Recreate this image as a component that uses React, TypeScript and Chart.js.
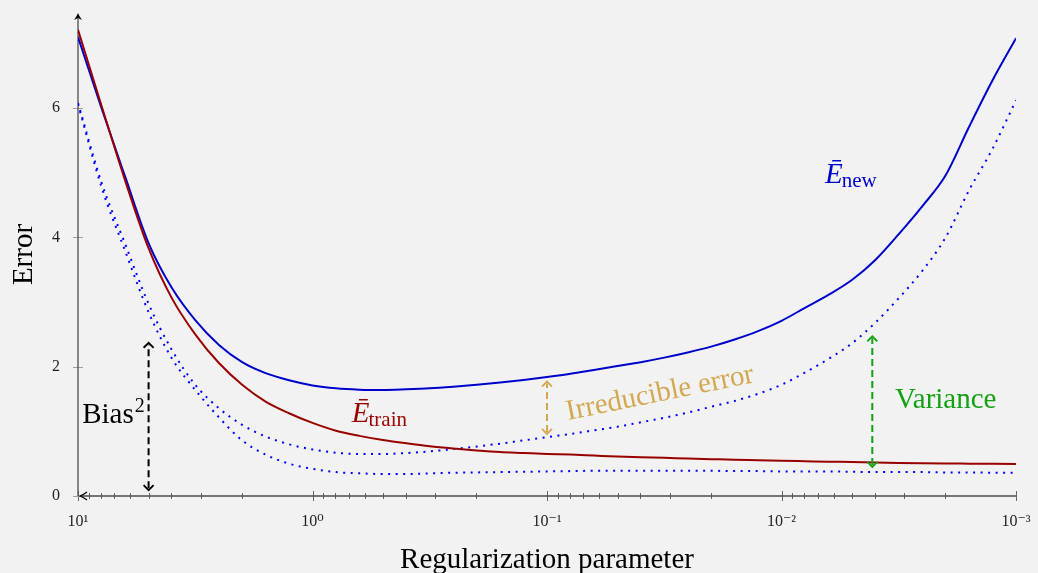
import React, { useEffect, useRef } from "react";
import { Chart, registerables } from "chart.js";

Chart.register(...registerables);

// log10 of the regularization parameter (x axis is reversed: 10^1 on the left)
const logLambda = [
  1.0, 0.9, 0.8, 0.7, 0.6, 0.5, 0.4, 0.3, 0.2, 0.1, 0.0,
  -0.1, -0.2, -0.3, -0.4, -0.5, -0.6, -0.7, -0.8, -0.9, -1.0,
  -1.1, -1.2, -1.3, -1.4, -1.5, -1.6, -1.7, -1.8, -1.9, -2.0,
  -2.1, -2.2, -2.3, -2.4, -2.5, -2.6, -2.7, -2.8, -2.9, -3.0,
];

const eTrain = [
  7.21, 6.04, 4.89, 3.84, 3.06, 2.50, 2.06, 1.72, 1.46, 1.28, 1.13,
  1.01, 0.93, 0.865, 0.815, 0.77, 0.735, 0.705, 0.68, 0.665, 0.65,
  0.64, 0.625, 0.61, 0.60, 0.59, 0.58, 0.57, 0.56, 0.553, 0.545,
  0.538, 0.531, 0.525, 0.518, 0.512, 0.507, 0.503, 0.50, 0.497, 0.495,
];

const eNew = [
  7.10, 6.00, 4.95, 3.92, 3.22, 2.72, 2.34, 2.07, 1.90, 1.79, 1.71,
  1.665, 1.645, 1.64, 1.65, 1.665, 1.69, 1.72, 1.755, 1.795, 1.84,
  1.89, 1.95, 2.01, 2.07, 2.14, 2.22, 2.31, 2.42, 2.55, 2.71,
  2.91, 3.11, 3.34, 3.65, 4.05, 4.48, 4.96, 5.71, 6.43, 7.08,
];

const biasPlusVariance = [
  6.08, 4.85, 3.91, 2.98, 2.26, 1.72, 1.36, 1.10, 0.92, 0.80, 0.72,
  0.67, 0.65, 0.65, 0.665, 0.69, 0.725, 0.765, 0.81, 0.86, 0.91,
  0.96, 1.015, 1.07, 1.14, 1.21, 1.29, 1.38, 1.47, 1.58, 1.72,
  1.91, 2.12, 2.36, 2.68, 3.06, 3.48, 4.00, 4.73, 5.37, 6.12,
];

const biasSquared = [
  6.06, 4.78, 3.80, 2.85, 2.13, 1.64, 1.22, 0.86, 0.64, 0.50, 0.42,
  0.37, 0.35, 0.34, 0.34, 0.35, 0.36, 0.365, 0.37, 0.375, 0.38,
  0.385, 0.39, 0.39, 0.39, 0.39, 0.39, 0.39, 0.385, 0.385, 0.38,
  0.38, 0.38, 0.375, 0.37, 0.37, 0.37, 0.365, 0.365, 0.36, 0.36,
];

const yTickValues = [0, 2, 4, 6];
const xDecades = [1, 0, -1, -2, -3];
const xDecadeLabels = ["10¹", "10⁰", "10⁻¹", "10⁻²", "10⁻³"];
const minorMultipliers = [2, 3, 4, 5, 6, 7, 8, 9];

// dashed double arrows: x = lambda, from y0 to y1 (error units)
const arrowX = [5.0, 0.1, 0.0041];
const arrowFrom = [0.09, 0.96, 0.45];
const arrowTo = [2.37, 1.77, 2.47];
const arrowColors = ["#000000", "#d4a852", "#13a013"];

const FONT = "'Liberation Serif', 'DejaVu Serif', serif";

function isDecade(v: number) {
  const l = Math.log10(v);
  return Math.abs(l - Math.round(l)) < 1e-6;
}

export default function App() {
  const ref = useRef<HTMLCanvasElement | null>(null);

  useEffect(() => {
    const canvas = ref.current;
    if (!canvas) return;
    const lambdas = logLambda.map((l) => Math.pow(10, l));
    const mk = (vals: number[]) => lambdas.map((x, i) => ({ x, y: vals[i] }));

    const tickValues: number[] = [];
    xDecades.forEach((d) => {
      tickValues.push(Math.pow(10, d));
      if (d < 1) minorMultipliers.forEach((m) => tickValues.push(m * Math.pow(10, d)));
    });

    const axesPlugin = {
      id: "axesPlugin",
      beforeDatasetsDraw(chart: any) {
        const { ctx, chartArea, scales } = chart;
        const xs = scales.x;
        const ys = scales.y;
        const x0 = chartArea.left;
        const y0 = ys.getPixelForValue(0);
        ctx.save();
        ctx.strokeStyle = "#666";
        ctx.lineWidth = 1;
        xs.ticks.forEach((t: any) => {
          const px = Math.round(xs.getPixelForValue(t.value)) + 0.5;
          const h = isDecade(t.value) ? 5 : 3;
          ctx.beginPath();
          ctx.moveTo(px, y0 - h);
          ctx.lineTo(px, y0 + h);
          ctx.stroke();
        });
        ctx.strokeStyle = "#a0a0a0";
        yTickValues.forEach((v) => {
          const py = Math.round(ys.getPixelForValue(v)) + 0.5;
          ctx.beginPath();
          ctx.moveTo(x0 - 5, py);
          ctx.lineTo(x0 + 5, py);
          ctx.stroke();
        });
        ctx.strokeStyle = "#4d4d4d";
        ctx.fillStyle = "#000";
        ctx.lineWidth = 1.3;
        ctx.beginPath();
        ctx.moveTo(chartArea.right, y0);
        ctx.lineTo(x0 + 2, y0);
        ctx.stroke();
        ctx.beginPath();
        ctx.moveTo(x0, y0);
        ctx.lineTo(x0, chartArea.top + 2);
        ctx.stroke();
        ctx.strokeStyle = "#000";
        ctx.lineWidth = 1.2;
        ctx.beginPath();
        ctx.moveTo(x0 - 4, chartArea.top + 7);
        ctx.quadraticCurveTo(x0 - 1, chartArea.top + 3, x0, chartArea.top);
        ctx.quadraticCurveTo(x0 + 1, chartArea.top + 3, x0 + 4, chartArea.top + 7);
        ctx.lineTo(x0, chartArea.top + 5);
        ctx.closePath();
        ctx.fill();
        ctx.beginPath();
        ctx.moveTo(x0 + 9, y0 - 4);
        ctx.quadraticCurveTo(x0 + 5, y0 - 1, x0 + 2, y0);
        ctx.quadraticCurveTo(x0 + 5, y0 + 1, x0 + 9, y0 + 4);
        ctx.stroke();
        ctx.restore();
      },
    };

    const annotationPlugin = {
      id: "annotationPlugin",
      afterDatasetsDraw(chart: any) {
        const { ctx, scales } = chart;
        const xs = scales.x;
        const ys = scales.y;
        ctx.save();
        arrowX.forEach((lx, i) => {
          const px = xs.getPixelForValue(lx);
          const pb = ys.getPixelForValue(arrowFrom[i]);
          const pt = ys.getPixelForValue(arrowTo[i]);
          ctx.strokeStyle = arrowColors[i];
          ctx.lineWidth = 2;
          ctx.setLineDash([7, 4]);
          ctx.beginPath();
          ctx.moveTo(px, pb - 2);
          ctx.lineTo(px, pt + 2);
          ctx.stroke();
          ctx.setLineDash([]);
          ctx.lineWidth = 1.8;
          ctx.beginPath();
          ctx.moveTo(px - 5, pt + 5);
          ctx.quadraticCurveTo(px - 1, pt + 1, px, pt);
          ctx.quadraticCurveTo(px + 1, pt + 1, px + 5, pt + 5);
          ctx.stroke();
          ctx.beginPath();
          ctx.moveTo(px - 5, pb - 5);
          ctx.quadraticCurveTo(px - 1, pb - 1, px, pb);
          ctx.quadraticCurveTo(px + 1, pb - 1, px + 5, pb - 5);
          ctx.stroke();
        });

        ctx.textAlign = "left";
        ctx.textBaseline = "alphabetic";
        ctx.fillStyle = "#000";
        ctx.font = `29px ${FONT}`;
        ctx.fillText("Bias", xs.getPixelForValue(9.6), ys.getPixelForValue(1.13));
        const bw = ctx.measureText("Bias").width;
        ctx.font = `20px ${FONT}`;
        ctx.fillText("2", xs.getPixelForValue(9.6) + bw + 1, ys.getPixelForValue(1.13) - 11);

        const drawE = (lx: number, ly: number, sub: string, color: string) => {
          const px = xs.getPixelForValue(lx);
          const py = ys.getPixelForValue(ly);
          ctx.fillStyle = color;
          ctx.font = `italic 29px ${FONT}`;
          ctx.fillText("Ē", px, py);
          const w = ctx.measureText("E").width;
          ctx.font = `21px ${FONT}`;
          ctx.fillText(sub, px + w - 1, py + 4);
        };
        drawE(0.68, 1.14, "train", "#990000");
        drawE(0.00652, 4.84, "new", "#0000cc");

        ctx.fillStyle = "#13a013";
        ctx.font = `29px ${FONT}`;
        ctx.fillText("Variance", xs.getPixelForValue(0.00328), ys.getPixelForValue(1.36));

        ctx.fillStyle = "#d4a852";
        ctx.translate(xs.getPixelForValue(0.0813), ys.getPixelForValue(1.175));
        ctx.rotate((-11.5 * Math.PI) / 180);
        ctx.fillText("Irreducible error", 0, 0);
        ctx.restore();
      },
    };

    const lineStyle = {
      borderWidth: 2,
      pointRadius: 0,
      cubicInterpolationMode: "monotone",
      fill: false,
    };

    const chart = new Chart(canvas, {
      type: "line",
      data: {
        datasets: [
          { label: "E_train", data: mk(eTrain), borderColor: "#990000", ...lineStyle },
          { label: "E_new", data: mk(eNew), borderColor: "#0000cc", ...lineStyle },
          {
            label: "Bias^2 + Variance",
            data: mk(biasPlusVariance),
            borderColor: "#0000ff",
            borderDash: [2, 5.5],
            ...lineStyle,
          },
          {
            label: "Bias^2",
            data: mk(biasSquared),
            borderColor: "#0000ff",
            borderDash: [2, 5.5],
            ...lineStyle,
          },
        ],
      },
      options: {
        animation: false,
        responsive: false,
        maintainAspectRatio: false,
        layout: { padding: { top: 13, right: 22, left: 0, bottom: 0 } },
        plugins: { legend: { display: false }, tooltip: { enabled: false } },
        scales: {
          x: {
            type: "logarithmic",
            min: 0.001,
            max: 10,
            reverse: true,
            border: { display: false },
            grid: { display: false, drawTicks: false },
            afterBuildTicks: (scale: any) => {
              scale.ticks = tickValues.map((v) => ({ value: v, major: isDecade(v) }));
            },
            afterFit: (scale: any) => {
              scale.height = 77;
              scale.paddingLeft = 0;
              scale.paddingRight = 0;
            },
            ticks: {
              autoSkip: false,
              maxRotation: 0,
              minRotation: 0,
              padding: 16,
              color: "#222",
              font: { family: FONT, size: 16 },
              callback: (value: any) => {
                const v = Number(value);
                if (!isDecade(v)) return "";
                const idx = xDecades.indexOf(Math.round(Math.log10(v)));
                return idx >= 0 ? xDecadeLabels[idx] : "";
              },
            },
            title: {
              display: true,
              text: "Regularization parameter",
              color: "#000",
              font: { family: FONT, size: 29, lineHeight: 0.9 },
              padding: { top: 0, bottom: 0 },
            },
          },
          y: {
            type: "linear",
            min: 0,
            max: 7.47,
            border: { display: false },
            grid: { display: false, drawTicks: false },
            afterBuildTicks: (scale: any) => {
              scale.ticks = yTickValues.map((v) => ({ value: v }));
            },
            afterFit: (scale: any) => {
              scale.width = 78;
              scale.paddingTop = 0;
              scale.paddingBottom = 0;
            },
            ticks: {
              padding: 18,
              color: "#222",
              font: { family: FONT, size: 16 },
              callback: (value: any) => String(value),
            },
            title: {
              display: true,
              text: "Error",
              color: "#000",
              font: { family: FONT, size: 29, lineHeight: 1 },
              padding: { top: 10, bottom: 0 },
            },
          },
        },
      },
      plugins: [axesPlugin, annotationPlugin],
    } as any);

    return () => chart.destroy();
  }, []);

  return (
    <div
      style={{
        position: "fixed",
        left: 0,
        top: 0,
        width: 1038,
        height: 573,
        background: "#f2f2f2",
      }}
    >
      <canvas ref={ref} width={1038} height={573} style={{ display: "block" }} />
    </div>
  );
}
